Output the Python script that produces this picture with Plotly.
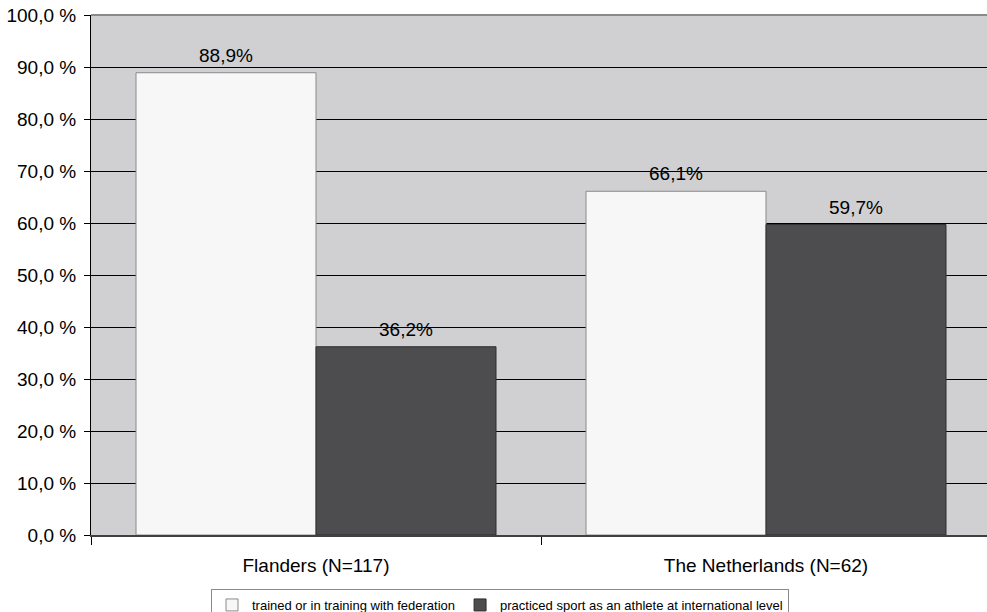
import plotly.graph_objects as go

# Data
categories = ["Flanders (N=117)", "The Netherlands (N=62)"]
series_names = [
    "trained or in training with federation",
    "practiced sport as an athlete at international level",
]
trained_pct = [88.9, 66.1]
international_pct = [36.2, 59.7]
y_ticks = [0, 10, 20, 30, 40, 50, 60, 70, 80, 90, 100]


def pct_label(v):
    return f"{v:.1f}".replace(".", ",") + "%"


def tick_label(v):
    return f"{v:.1f}".replace(".", ",") + " %"


FONT = "Liberation Sans, Arial, sans-serif"
BARGAP = 0.2

fig = go.Figure()
fig.add_trace(go.Bar(
    name=series_names[0],
    x=categories,
    y=trained_pct,
    marker=dict(color="#F7F7F7", line=dict(color="#8A8A8A", width=1)),
))
fig.add_trace(go.Bar(
    name=series_names[1],
    x=categories,
    y=international_pct,
    marker=dict(color="#4D4D4F", line=dict(color="#2E2E2E", width=1)),
))

# Value labels centred over each bar of the group
bar_w = (1 - BARGAP) / 2
for s, values in enumerate([trained_pct, international_pct]):
    offset = -bar_w / 2 if s == 0 else bar_w / 2
    for i, v in enumerate(values):
        fig.add_annotation(
            x=i + offset, y=v, xref="x", yref="y",
            text=pct_label(v), showarrow=False,
            yanchor="bottom", yshift=5,
            font=dict(size=19, family=FONT, color="black"),
        )

fig.update_layout(
    width=987,
    height=612,
    margin=dict(l=91, r=0, t=15, b=77),
    paper_bgcolor="white",
    plot_bgcolor="#D0D0D2",
    barmode="group",
    bargap=BARGAP,
    bargroupgap=0,
    font=dict(family=FONT, color="black"),
    showlegend=True,
    legend=dict(
        orientation="h",
        xref="container",
        yref="container",
        x=500 / 987,
        xanchor="center",
        y=1 - 589 / 612,
        yanchor="top",
        bgcolor="white",
        bordercolor="#8A8A8A",
        borderwidth=1,
        font=dict(size=13, family=FONT, color="black"),
        itemwidth=30,
        traceorder="normal",
    ),
    xaxis=dict(
        range=[-0.5, 1.5 - 4 / 450],
        showline=True,
        linecolor="#404040",
        linewidth=2,
        ticks="outside",
        tickson="boundaries",
        ticklen=8,
        tickcolor="black",
        tickwidth=1,
        showgrid=False,
        tickfont=dict(size=19, family=FONT),
        ticklabelstandoff=12,
    ),
    yaxis=dict(
        range=[0, 100],
        tickvals=y_ticks,
        ticktext=[tick_label(v) for v in y_ticks],
        showline=True,
        linecolor="black",
        linewidth=1,
        ticks="outside",
        ticklen=6,
        tickcolor="black",
        showgrid=True,
        gridcolor="black",
        gridwidth=1,
        zeroline=False,
        tickfont=dict(size=19, family=FONT),
        ticklabelstandoff=4,
    ),
)

# Plot-area top border
fig.add_shape(
    type="line", xref="paper", yref="paper",
    x0=0, x1=1, y0=1, y1=1,
    line=dict(color="#8A8A8A", width=2),
)

fig.write_html("out.html")
